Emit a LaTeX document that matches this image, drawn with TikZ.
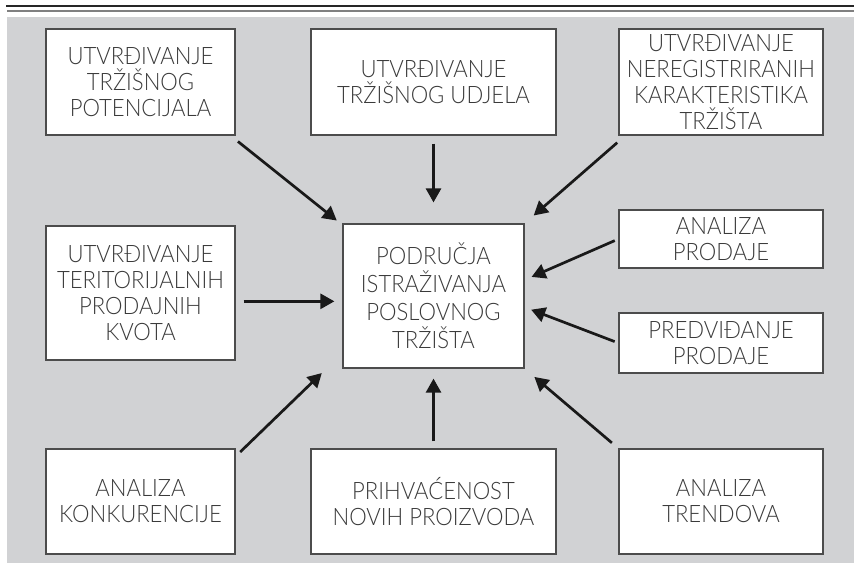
\documentclass[tikz,border=0pt]{standalone}
\usepackage{fontspec}
\setmainfont{Lato Light}[FakeStretch=0.92]
\usetikzlibrary{arrows.meta}
\definecolor{pozadina}{HTML}{D1D2D4}
\definecolor{tekst}{HTML}{3A3A3A}
\begin{document}
\begin{tikzpicture}[x=0.5pt,y=-0.5pt,
    okvir/.style={draw=black!70, line width=0.6pt, fill=white, text=tekst, align=center,
      inner sep=0pt, font=\fontsize{12}{13}\selectfont},
    strelica/.style={-{Triangle[length=7pt,width=7.5pt]}, line width=1.35pt, draw=black!90}]
        \useasboundingbox (0,0) rectangle (854,570);
        % dvije linije na vrhu i siva podloga
        \draw[line width=0.75pt, black!85] (6,6) -- (854,6);
        \draw[line width=1pt, black!50] (7,10.5) -- (854,10.5);
        \fill[pozadina] (7,17) rectangle (854,563);

        % gornji red
        \node[okvir, minimum width=94.5pt, minimum height=53pt] (tl) at (140.5,82) {UTVRĐIVANJE\\TRŽIŠNOG\\POTENCIJALA};
        \node[okvir, minimum width=122.5pt, minimum height=53pt] (tc) at (433.5,82) {UTVRĐIVANJE\\TRŽIŠNOG UDJELA};
        \node[okvir, minimum width=102pt, minimum height=53pt] (tr) at (721,82) {UTVRĐIVANJE\\NEREGISTRIRANIH\\KARAKTERISTIKA\\TRŽIŠTA};

        % srednji dio
        \node[okvir, minimum width=94.5pt, minimum height=67pt] (ml) at (140.5,293) {UTVRĐIVANJE\\TERITORIJALNIH\\PRODAJNIH\\KVOTA};
        \node[okvir, minimum width=90.5pt, minimum height=72pt, font=\fontsize{12}{14}\selectfont] (c) at (433.5,296) {PODRUČJA\\ISTRAŽIVANJA\\POSLOVNOG\\TRŽIŠTA};
        \node[okvir, minimum width=102pt, minimum height=29pt] (ap) at (721,239) {ANALIZA\\PRODAJE};
        \node[okvir, minimum width=102pt, minimum height=30pt] (pp) at (721,343) {PREDVIĐANJE\\PRODAJE};

        % donji red
        \node[okvir, minimum width=94.5pt, minimum height=52.5pt] (bl) at (140.5,501.5) {ANALIZA\\KONKURENCIJE};
        \node[okvir, minimum width=122.5pt, minimum height=52.5pt] (bc) at (433.5,501.5) {PRIHVAĆENOST\\NOVIH PROIZVODA};
        \node[okvir, minimum width=102pt, minimum height=52.5pt] (br) at (721,501.5) {ANALIZA\\TRENDOVA};

        % strelice prema sredini
        \draw[strelica, shorten <=1.5pt, shorten >=2.3pt] ([yshift=-2pt]tl.south east) -- ([xshift=-1pt]c.north west);
        \draw[strelica, shorten <=4pt, shorten >=10.5pt] (tc.south) -- (c.north);
        \draw[strelica, shorten <=0.8pt, shorten >=6pt] ([yshift=-3pt]tr.south west) -- (c.north east);
        \draw[strelica, shorten <=2pt, shorten >=3.8pt] (ap.west) -- (c.10);
        \draw[strelica, shorten <=2pt, shorten >=3.5pt] (pp.west) -- (c.-7);
        \draw[strelica, shorten <=4pt, shorten >=4pt] (ml.-5) -- (ml.-5 -| c.west);
        \draw[strelica, shorten <=3.2pt, shorten >=3.2pt] ([yshift=-4pt]bl.north east) -- ([xshift=-8pt]c.south west);
        \draw[strelica, shorten <=3.5pt, shorten >=5pt] (bc.north) -- (c.south);
        \draw[strelica, shorten <=4.3pt, shorten >=6.4pt] (br.north west) -- (c.south east);

    \end{tikzpicture}
\end{document}
